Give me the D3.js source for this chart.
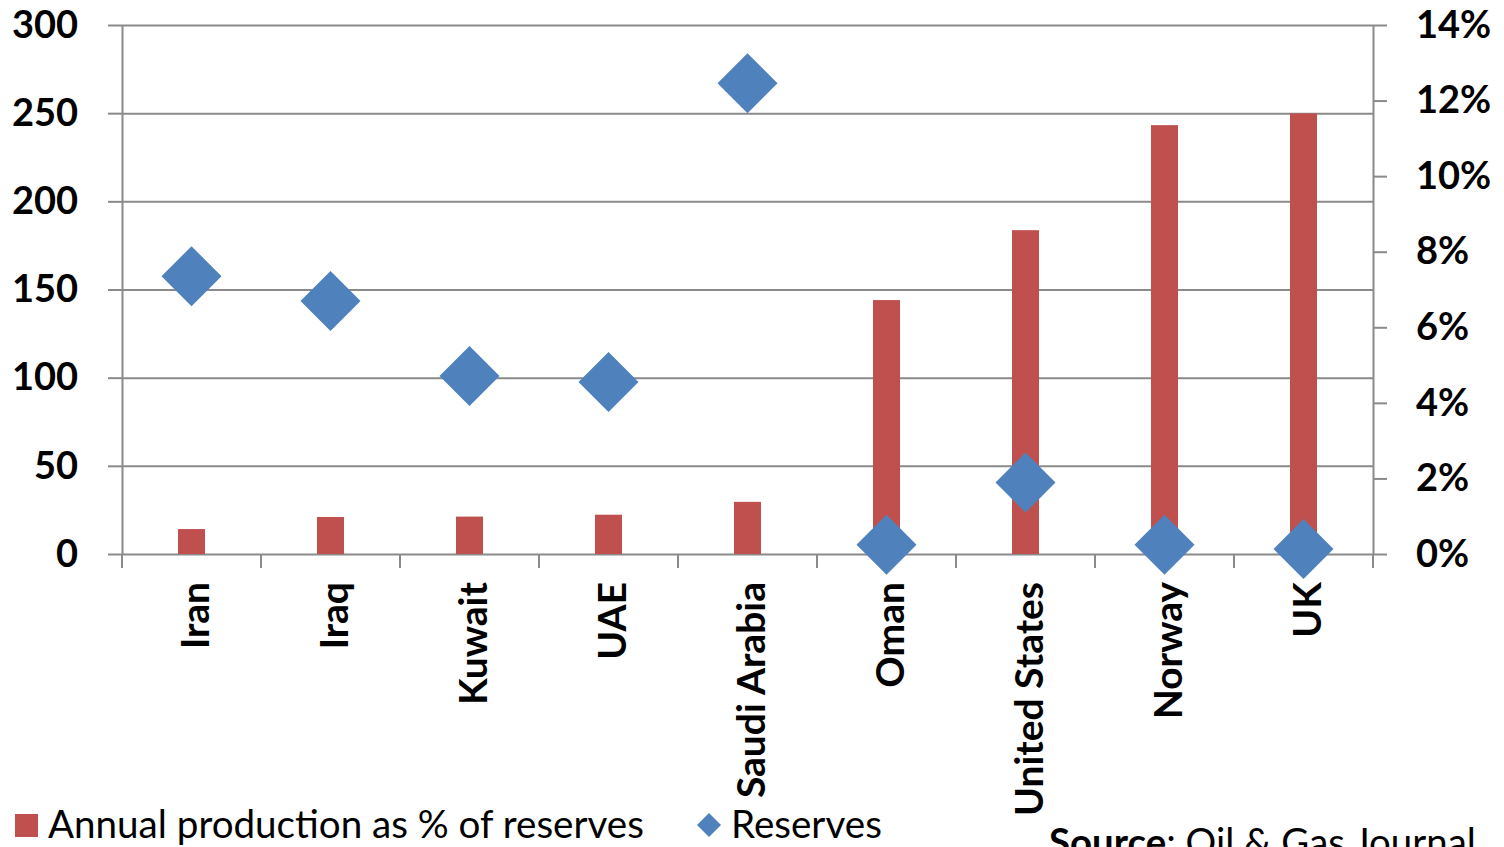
<!DOCTYPE html>
<html>
<head>
<meta charset="utf-8">
<script src="https://cdn.jsdelivr.net/npm/d3@7"></script>
<style>
  body { margin: 0; background: #fff; }
  svg { display: block; font-family: Lato, "Open Sans", sans-serif; }
</style>
</head>
<body>
<script>
// data
const countries = ["Iran", "Iraq", "Kuwait", "UAE", "Saudi Arabia", "Oman", "United States", "Norway", "UK"];
const productionPct = [0.0066, 0.0098, 0.0099, 0.0104, 0.0138, 0.0672, 0.0857, 0.1135, 0.1166];
const reserves = [157.5, 143.5, 101, 97.6, 267, 5.2, 40.5, 5.2, 2.8];
const leftTicks = [0, 50, 100, 150, 200, 250, 300];
const rightTicks = [0, 0.02, 0.04, 0.06, 0.08, 0.10, 0.12, 0.14];

const w = 1504, h = 847;
const plotL = 122, plotR = 1373, plotT = 25, plotB = 554;
const grey = "#8a8a8a";

const svg = d3.select("body").append("svg")
  .attr("width", w)
  .attr("height", h);

const x = d3.scaleBand().domain(countries).range([plotL, plotR]).padding(0);
const yL = d3.scaleLinear().domain([0, 300]).range([plotB, plotT]);
const yR = d3.scaleLinear().domain([0, 0.14]).range([plotB, plotT]);

// gridlines
const grid = svg.append("g")
  .attr("transform", `translate(${plotL},0)`)
  .call(d3.axisLeft(yL).tickValues(leftTicks).tickSize(-(plotR - plotL)).tickFormat(""));
grid.select(".domain").remove();
grid.selectAll("line").attr("stroke", grey).attr("stroke-width", 2);

// left axis
const ax = svg.append("g")
  .attr("transform", `translate(${plotL},0)`)
  .call(d3.axisLeft(yL).tickValues(leftTicks).tickSize(14).tickSizeOuter(0).tickPadding(30));
ax.select(".domain").attr("stroke", grey).attr("stroke-width", 2);
ax.selectAll("line").attr("stroke", grey).attr("stroke-width", 2);
ax.selectAll("text")
  .attr("font-family", "Lato, sans-serif")
  .attr("font-size", 38).attr("font-weight", "bold").attr("fill", "#000");

// right axis
const ar = svg.append("g")
  .attr("transform", `translate(${plotR},0)`)
  .call(d3.axisRight(yR).tickValues(rightTicks).tickSize(14).tickSizeOuter(0).tickPadding(29)
    .tickFormat(d3.format(".0%")));
ar.select(".domain").attr("stroke", grey).attr("stroke-width", 2);
ar.selectAll("line").attr("stroke", grey).attr("stroke-width", 2);
ar.selectAll("text")
  .attr("font-family", "Lato, sans-serif")
  .attr("font-size", 38).attr("font-weight", "bold").attr("fill", "#000");

// category boundary ticks
const bounds = countries.map(c => x(c)).concat([plotR]);
svg.selectAll("line.cat")
  .data(bounds)
  .enter()
  .append("line")
  .attr("class", "cat")
  .attr("x1", d => d).attr("x2", d => d)
  .attr("y1", plotB).attr("y2", plotB + 14)
  .attr("stroke", grey).attr("stroke-width", 2);

// bars (right axis)
const barW = 27;
svg.selectAll("rect.bar")
  .data(productionPct)
  .enter()
  .append("rect")
  .attr("class", "bar")
  .attr("x", (d, i) => x(countries[i]) + x.bandwidth() / 2 - barW / 2)
  .attr("y", d => yR(d))
  .attr("width", barW)
  .attr("height", d => yR(0) - yR(d))
  .attr("fill", "#C0504D");

// diamonds (left axis)
const dr = 30;
svg.selectAll("path.dia")
  .data(reserves)
  .enter()
  .append("path")
  .attr("class", "dia")
  .attr("transform", (d, i) => `translate(${x(countries[i]) + x.bandwidth() / 2},${yL(d)})`)
  .attr("d", `M0,${-dr}L${dr},0L0,${dr}L${-dr},0Z`)
  .attr("fill", "#4F81BD");

// category labels
svg.selectAll("text.cat")
  .data(countries)
  .enter()
  .append("text")
  .attr("class", "cat")
  .attr("transform", d => `translate(${x(d) + x.bandwidth() / 2 + 2},582) rotate(-90)`)
  .attr("text-anchor", "end")
  .attr("dominant-baseline", "central")
  .attr("font-size", 39)
  .attr("font-weight", "bold")
  .text(d => d);

// legend
svg.append("rect")
  .attr("x", 15).attr("y", 814).attr("width", 23).attr("height", 23)
  .attr("fill", "#C0504D");
svg.append("text")
  .attr("x", 48).attr("y", 838)
  .attr("font-size", 38.6)
  .text("Annual production as % of reserves");
svg.append("path")
  .attr("transform", "translate(709,825)")
  .attr("d", "M0,-12L12,0L0,12L-12,0Z")
  .attr("fill", "#4F81BD");
svg.append("text")
  .attr("x", 731).attr("y", 838)
  .attr("font-size", 38.6)
  .text("Reserves");

// source
const src = svg.append("text")
  .attr("x", 1049).attr("y", 856)
  .attr("font-size", 38.4);
src.append("tspan").attr("font-weight", "bold").text("Source");
src.append("tspan").text(": Oil & Gas Journal");
</script>
</body>
</html>
